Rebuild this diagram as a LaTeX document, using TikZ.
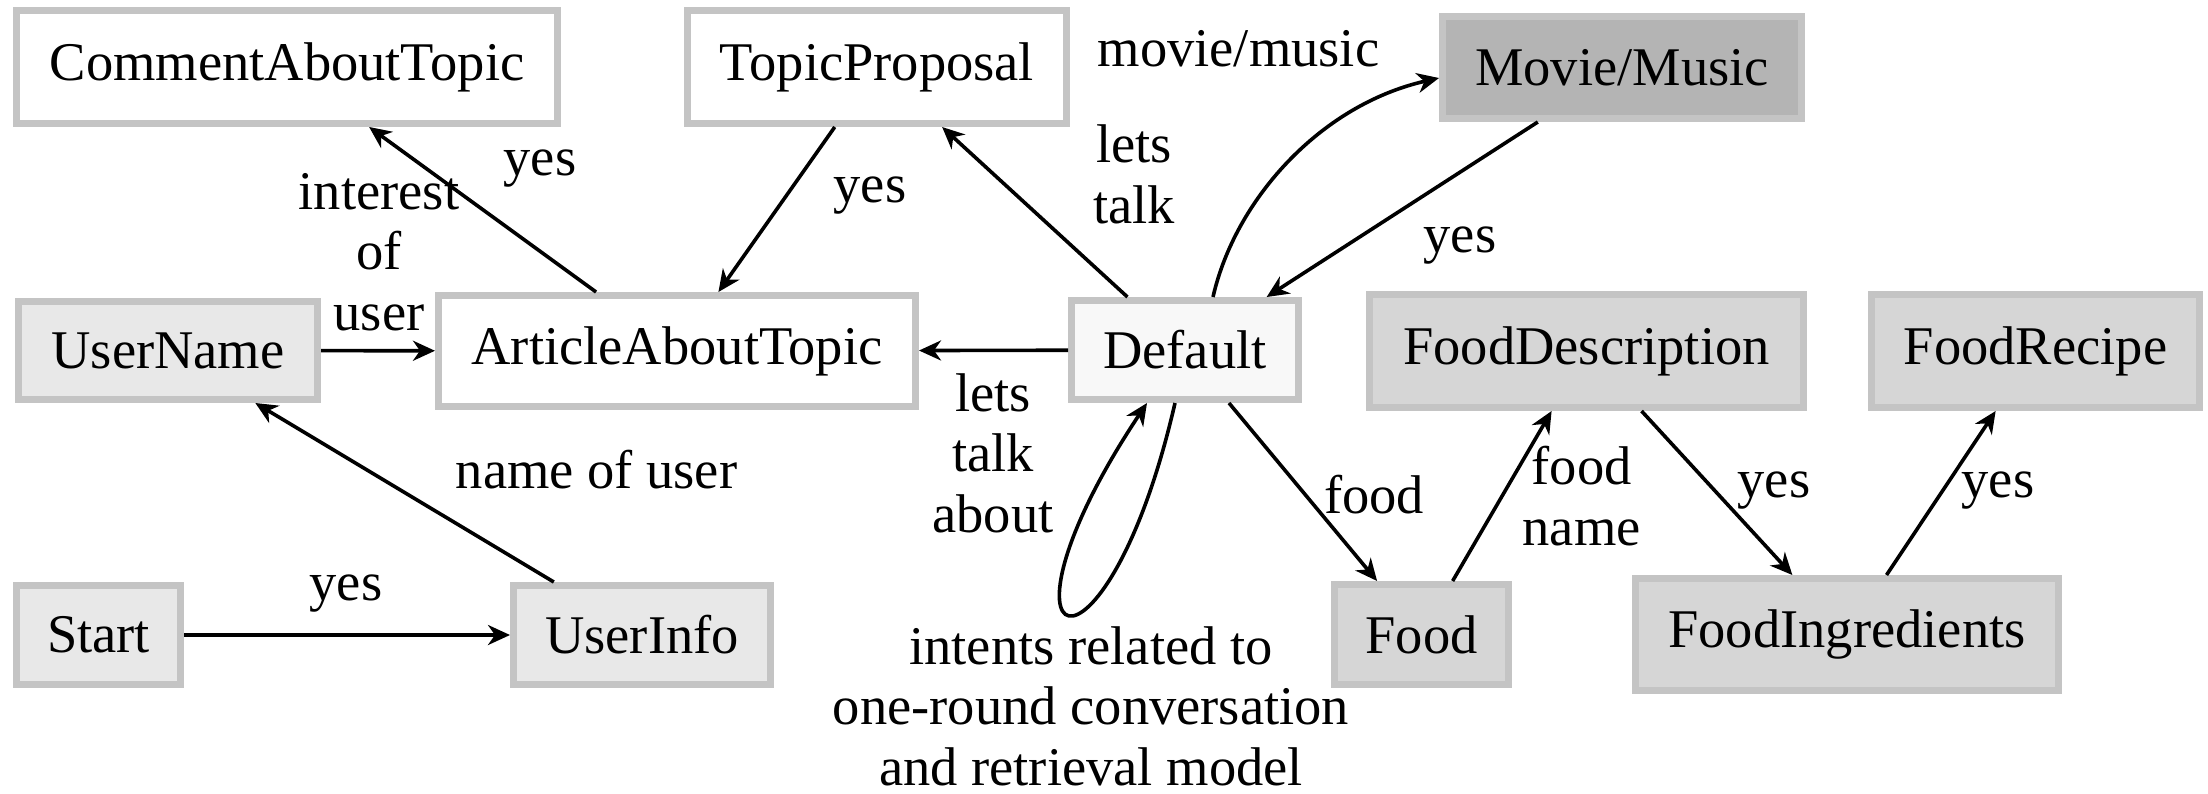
\documentclass[tikz,border=0pt]{standalone}
\usepackage{fontspec}
\setmainfont{Liberation Serif}
\usetikzlibrary{arrows.meta}
\definecolor{boxline}{HTML}{C4C4C4}
\definecolor{fillpale}{HTML}{F8F8F8}
\definecolor{filllight}{HTML}{E8E8E8}
\definecolor{fillmid}{HTML}{D6D6D6}
\definecolor{filldark}{HTML}{B4B4B4}
\newcommand\diagfont{\fontsize{54.5}{60.5}\selectfont}
\begin{document}
\begin{tikzpicture}[x=1pt,y=-1pt,
  box/.style={draw=boxline, line width=7pt, inner sep=0pt, font=\diagfont},
  lbl/.style={font=\diagfont, inner sep=0pt, align=center},
  arr/.style={line width=3.6pt, -{Stealth[length=22pt,width=20pt,inset=7pt]}},
]
\useasboundingbox (0,0) rectangle (2208,793);

% states
\node[box, fill=white,     minimum width=541pt, minimum height=113pt] (cat) at (287,67)      {CommentAboutTopic};
\node[box, fill=white,     minimum width=379pt, minimum height=113pt] (tp)  at (877,67)      {TopicProposal};
\node[box, fill=filldark,  minimum width=359pt, minimum height=102pt] (mm)  at (1622,67.5)   {Movie/Music};
\node[box, fill=filllight, minimum width=299pt, minimum height=98pt]  (un)  at (168,350.5)   {UserName};
\node[box, fill=white,     minimum width=477pt, minimum height=111pt] (aat) at (677,351)     {ArticleAboutTopic};
\node[box, fill=fillpale,  minimum width=227pt, minimum height=99pt]  (def) at (1185,350)    {Default};
\node[box, fill=fillmid,   minimum width=434pt, minimum height=113pt] (fd)  at (1586.5,351)  {FoodDescription};
\node[box, fill=fillmid,   minimum width=328pt, minimum height=113pt] (fr)  at (2035.5,351)  {FoodRecipe};
\node[box, fill=filllight, minimum width=164pt, minimum height=99pt]  (st)  at (98.5,635)    {Start};
\node[box, fill=filllight, minimum width=257pt, minimum height=99pt]  (ui)  at (642,635)     {UserInfo};
\node[box, fill=fillmid,   minimum width=174pt, minimum height=100pt] (fo)  at (1421.5,634.5){Food};
\node[box, fill=fillmid,   minimum width=423pt, minimum height=112pt] (fi)  at (1847,634.5)  {FoodIngredients};

% transitions
\draw[arr] (st)  -- (ui);
\draw[arr] (ui)  -- (un);
\draw[arr] (un)  -- (aat);
\draw[arr] (aat) -- (cat);
\draw[arr] (tp)  -- (aat);
\draw[arr] (def) -- (tp);
\draw[arr] (def) -- (aat);
\draw[arr] (mm)  -- (def);
\draw[arr] (def) -- (fo);
\draw[arr] (fo)  -- (fd);
\draw[arr] (fd)  -- (fi);
\draw[arr] (fi)  -- (fr);
\draw[arr] ([xshift=28pt]def.north) .. controls (1235,200) and (1320,105) .. ([yshift=-10.5pt]mm.west);
\draw[arr] ([xshift=-10pt]def.south) .. controls (1105,707) and (974,663) .. ([xshift=-38pt]def.south);

% transition labels (base = baseline of the last line)
\node[lbl, anchor=base] (tyes1) at (540,175)   {yes};
\node[lbl, anchor=base] (tint)  at (379,330)   {interest\\of\\user};
\node[lbl, anchor=base] (tyes2) at (870,202.5) {yes};
\node[lbl, anchor=base] (tlt)   at (1134,223)  {lets\\talk};
\node[lbl, anchor=base] (tmm)   at (1238.5,66) {movie/music};
\node[lbl, anchor=base] (tyes3) at (1460,252)  {yes};
\node[lbl, anchor=base] (tlta)  at (993,532)   {lets\\talk\\about};
\node[lbl, anchor=base] (tname) at (596.5,488) {name of user};
\node[lbl, anchor=base] (tyes4) at (346,600)   {yes};
\node[lbl, anchor=base] (tint2) at (1091,785)  {intents related to\\one-round conversation\\and retrieval model};
\node[lbl, anchor=base] (tfood) at (1374,513)  {food};
\node[lbl, anchor=base] (tfn)   at (1581.7,545){food\\name};
\node[lbl, anchor=base] (tyes5) at (1774,497.5){yes};
\node[lbl, anchor=base] (tyes6) at (1998,497.5){yes};
\end{tikzpicture}
\end{document}
